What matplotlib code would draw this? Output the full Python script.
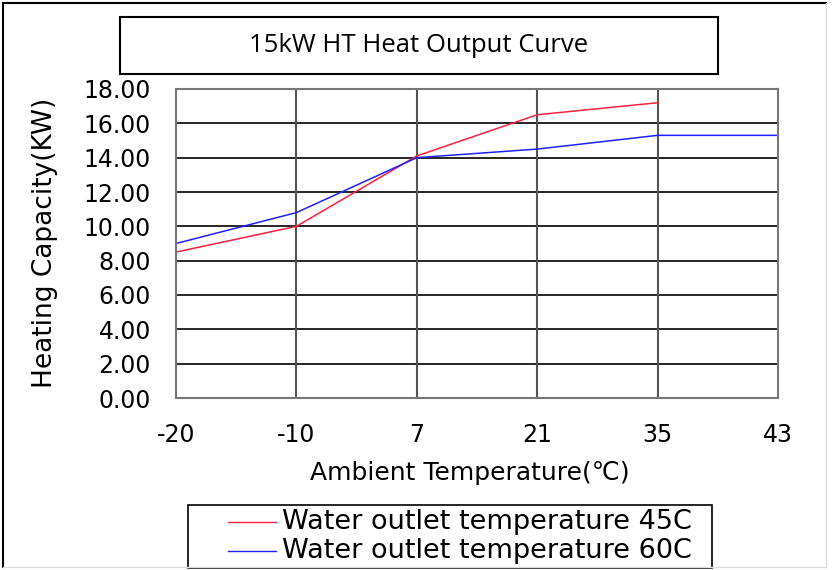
import matplotlib
matplotlib.use("Agg")
import matplotlib.pyplot as plt
from matplotlib.patches import Rectangle
from matplotlib.lines import Line2D

categories = ["-20", "-10", "7", "21", "35", "43"]
series_45 = [8.5, 10.0, 14.1, 16.5, 17.2]
series_60 = [9.0, 10.8, 14.0, 14.5, 15.3, 15.3]
y_ticks = [0, 2, 4, 6, 8, 10, 12, 14, 16, 18]
title = "15kW HT Heat Output Curve"
label_45 = "Water outlet temperature 45C"
label_60 = "Water outlet temperature 60C"

W, H = 832, 570
fig = plt.figure(figsize=(W / 100, H / 100), dpi=100)
font = ["DejaVu Sans"]

def fx(px):
    return px / W

def fy(py):
    return 1 - py / H

# outer border
fig.add_artist(Line2D([fx(3), fx(826)], [fy(3), fy(3)], color="black", lw=1.5))
fig.add_artist(Line2D([fx(3), fx(3)], [fy(3), fy(567)], color="black", lw=1.5))
fig.add_artist(Line2D([fx(826), fx(826)], [fy(3), fy(567)], color="#dddddd", lw=1))
fig.add_artist(Line2D([fx(3), fx(826)], [fy(567), fy(567)], color="#dddddd", lw=1))

# title box
fig.add_artist(Rectangle((fx(120), fy(74)), fx(718) - fx(120), fy(17) - fy(74),
                         fill=False, edgecolor="black", lw=1.5))
fig.text(fx(419), fy(46), title, ha="center", va="center", fontsize=18.5,
         family=["Open Sans", "DejaVu Sans"], color="black")

ax = fig.add_axes([fx(176), fy(398), fx(778) - fx(176), fy(89) - fy(398)])
x = list(range(len(categories)))
ax.plot(x[:len(series_45)], series_45, color="#ff2040", lw=1.1)
ax.plot(x, series_60, color="#2020ff", lw=1.1)
ax.set_xlim(0, len(categories) - 1)
ax.set_ylim(0, 18)
ax.set_yticks(y_ticks)
ax.set_yticklabels([f"{v:.2f}" for v in y_ticks], family=font, fontsize=17)
ax.set_xticks(x)
ax.set_xticklabels(categories, family=font, fontsize=17)
ax.tick_params(length=0)
ax.tick_params(axis="y", pad=18)
ax.tick_params(axis="x", pad=18)
for v in y_ticks[1:-1]:
    ax.axhline(v, color="black", lw=1.2, zorder=0)
for v in x[1:-1]:
    ax.axvline(v, color="#555555", lw=1.5, zorder=0)
for s in ax.spines.values():
    s.set_color("#777777")
    s.set_linewidth(1.5)

fig.text(fx(45), fy(243), "Heating Capacity(KW)", rotation=90, ha="center",
         va="center", fontsize=19, family=font)
fig.text(fx(470), fy(473), "Ambient Temperature(℃)", ha="center", va="center",
         fontsize=18, family=font)

# legend
fig.add_artist(Rectangle((fx(188), fy(568)), fx(712) - fx(188), fy(505) - fy(568),
                         fill=False, edgecolor="black", lw=1.2))
fig.add_artist(Line2D([fx(228), fx(276)], [fy(522), fy(522)], color="#ff2040", lw=1))
fig.add_artist(Line2D([fx(228), fx(276)], [fy(551), fy(551)], color="#2020ff", lw=1))
fig.text(fx(282), fy(522), label_45, ha="left", va="center", fontsize=19.5, family=font)
fig.text(fx(282), fy(551), label_60, ha="left", va="center", fontsize=19.5, family=font)

fig.savefig("out.png", dpi=100)
